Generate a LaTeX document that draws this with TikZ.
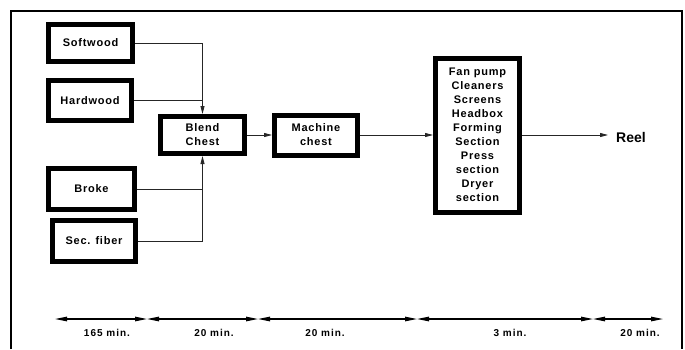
\documentclass[tikz,border=0pt]{standalone}
\usepackage{fontspec}
\setmainfont{Liberation Sans}
\newfontfamily\boxfont[LetterSpace=7]{Liberation Sans}
\newfontfamily\timefont[LetterSpace=10]{Liberation Sans}
\usetikzlibrary{arrows.meta}
\begin{document}
\begin{tikzpicture}[x=1pt,y=-1pt,
  box/.style={draw, line width=5pt, align=center, inner sep=0pt,
    font=\boxfont\bfseries\fontsize{11}{14}\selectfont},
  conn/.style={line width=0.8pt, black!85},
  flow/.style={conn, -{Triangle[length=8pt,width=4pt]}},
  tl/.style={line width=1.1pt, {Triangle[length=12pt,width=4.5pt]}-{Triangle[length=12pt,width=4.5pt]}},
  tlab/.style={font=\timefont\bfseries\fontsize{10}{12}\selectfont, inner sep=0pt}]
\useasboundingbox (0,0) rectangle (685,349);
\fill[white] (0,0) rectangle (685,349);
\draw[line width=2pt] (11,349) -- (11,11) -- (682,11) -- (682,349);

\node[box, minimum width=84pt, minimum height=37pt] (sw) at (90.5,43) {Softwood};
\node[box, minimum width=83pt, minimum height=40pt] (hw) at (90,100.5) {Hardwood};
\node[box, minimum width=86pt, minimum height=41pt] (br) at (91.5,189) {Broke};
\node[box, minimum width=83pt, minimum height=41pt] (sf) at (94,241) {Sec. fiber};
\node[box, minimum width=84pt, minimum height=37pt] (bc) at (202.5,135) {Blend\\Chest};
\node[box, minimum width=83pt, minimum height=40pt] (mc) at (316,135) {Machine\\chest};
\node[box, minimum width=84pt, minimum height=154pt] (pm) at (477.5,135)
  {Fan pump\\Cleaners\\Screens\\Headbox\\Forming\\Section\\Press\\section\\Dryer\\section};
\node[font=\bfseries\fontsize{14}{16}\selectfont, anchor=west, inner sep=0pt] (reel) at (616,137) {Reel};
\coordinate (reelin) at (608,135);

\draw[flow] (sw.east) -| (bc.north);
\draw[conn] (hw.east) -- (hw.east -| bc.north);
\draw[flow] (sf.east) -| (bc.south);
\draw[conn] (br.east) -- (br.east -| bc.south);
\draw[flow] (bc.east) -- (mc.west);
\draw[flow] (mc.east) -- (pm.west);
\draw[flow] (pm.east) -- (reelin);

\coordinate (t0) at (55,319);
\coordinate (t1) at (147,319);
\coordinate (t2) at (258,319);
\coordinate (t3) at (417,319);
\coordinate (t4) at (593,319);
\coordinate (t5) at (663,319);
\draw[tl] (t0) -- (t1);
\draw[tl] (t1) -- (t2);
\draw[tl] (t2) -- (t3);
\draw[tl] (t3) -- (t4);
\draw[tl] (t4) -- (t5);
\node[tlab] (l1) at (107,333) {165 min.};
\node[tlab] (l2) at (214,333) {20 min.};
\node[tlab] (l3) at (325,333) {20 min.};
\node[tlab] (l4) at (510,333) {3 min.};
\node[tlab] (l5) at (640,333) {20 min.};
\end{tikzpicture}
\end{document}
